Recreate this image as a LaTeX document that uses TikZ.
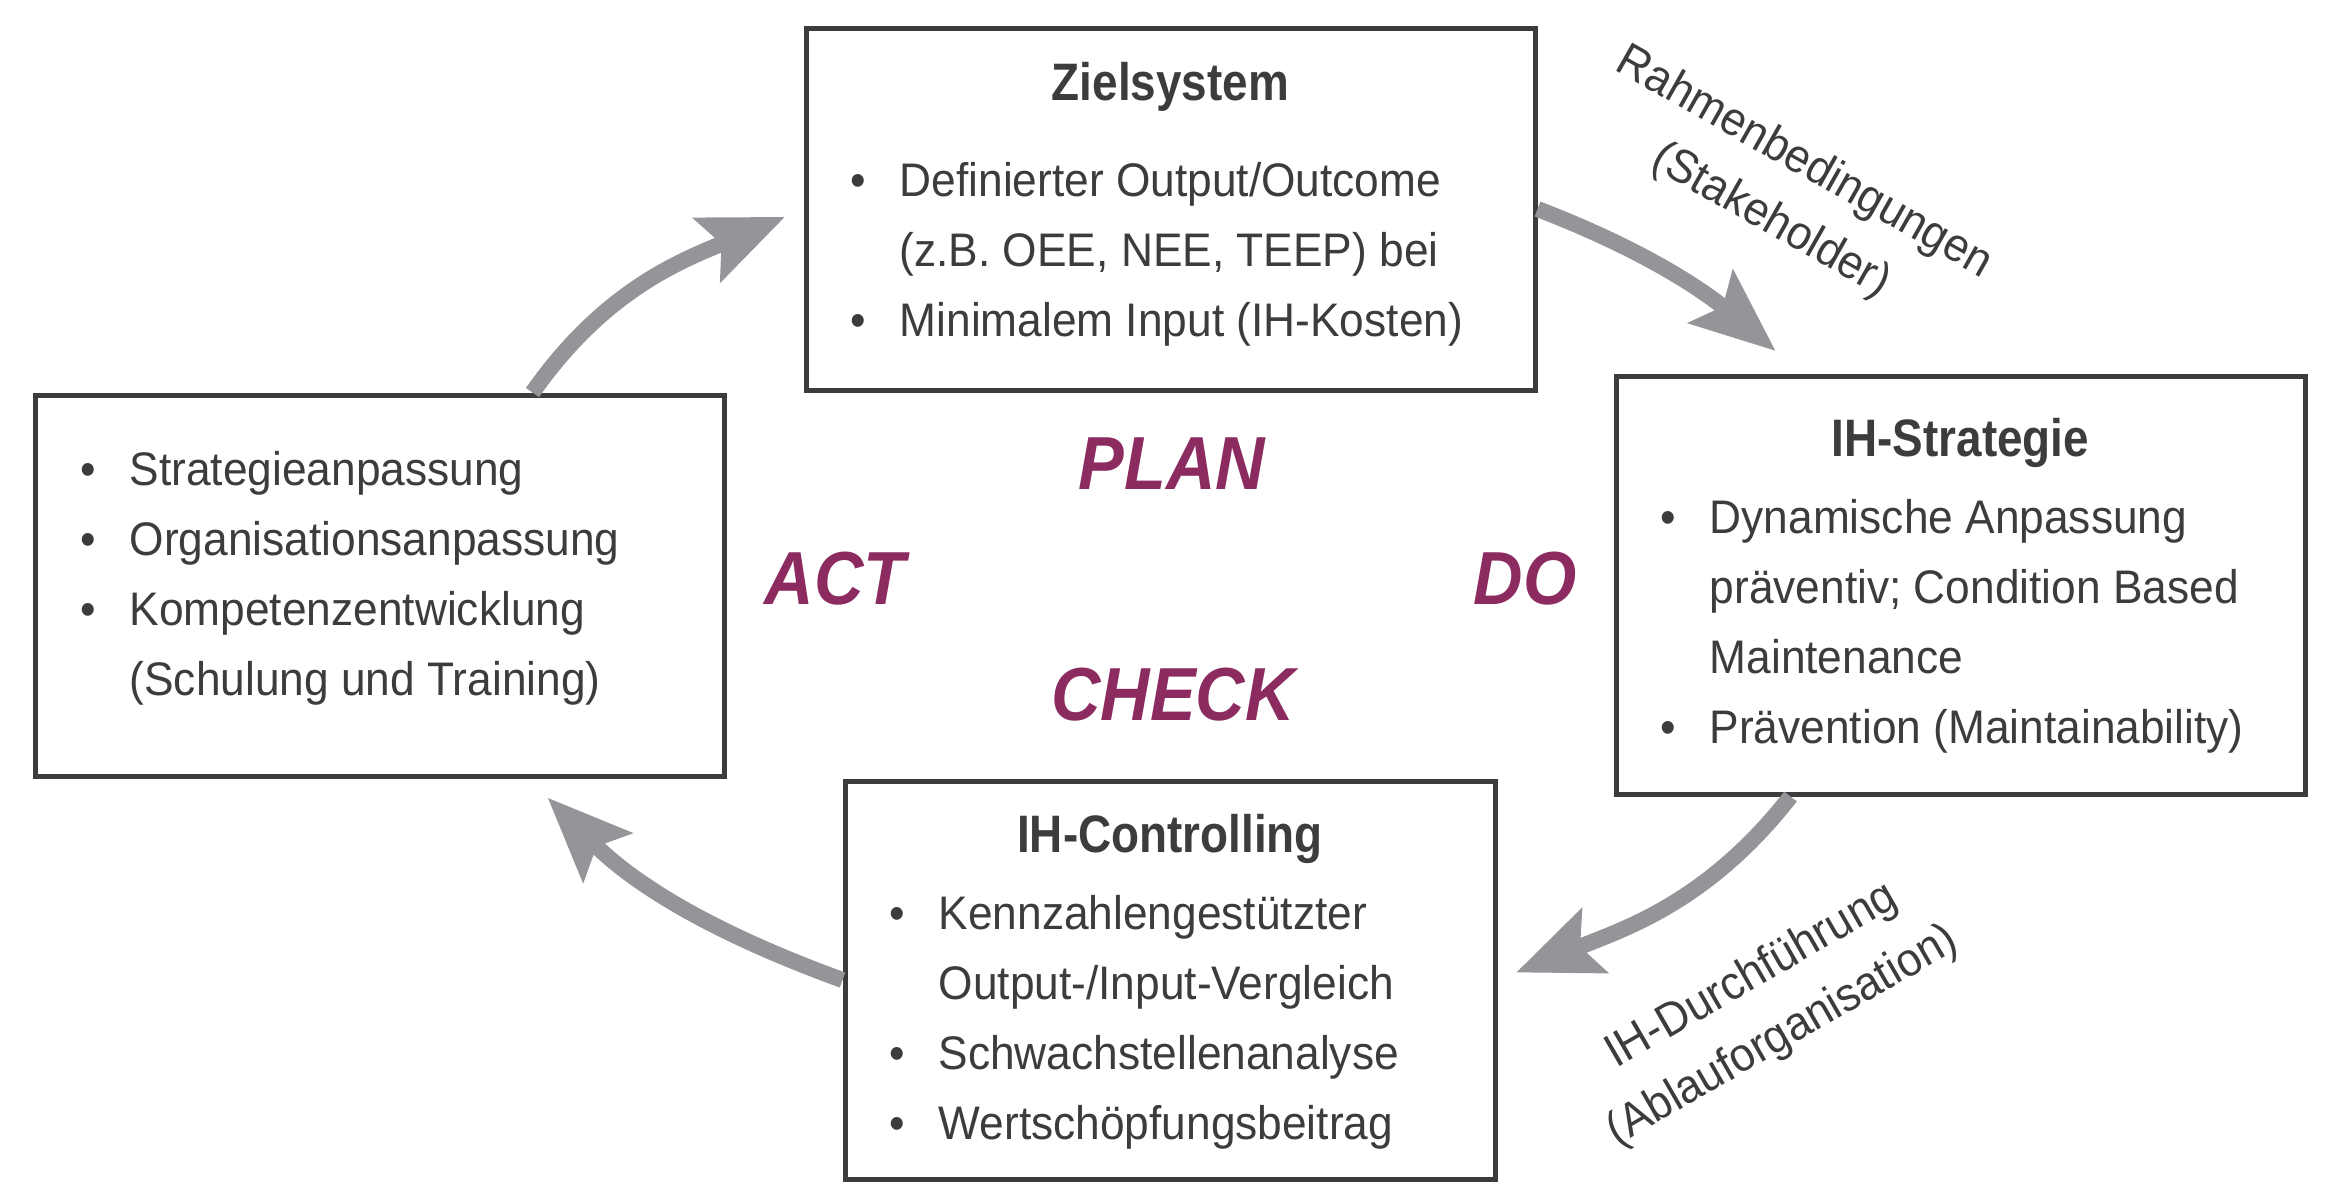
\documentclass[tikz,border=0pt]{standalone}
\usepackage{fontspec}
\setmainfont{Liberation Sans}[FakeStretch=0.94]
\newfontfamily\headfont{Liberation Sans}[FakeStretch=0.87]
\newfontfamily\pdcafont{Liberation Sans}[FakeStretch=0.91]
\usetikzlibrary{arrows.meta, positioning}
\definecolor{textgray}{HTML}{3C3C3C}
\definecolor{framegray}{HTML}{3C3C3C}
\definecolor{arrowgray}{HTML}{939598}
\definecolor{pdcared}{HTML}{8C2B60}
\newcommand{\bul}{\textbullet}
\tikzset{
    box/.style={draw=framegray, line width=0.05cm, fill=white, inner sep=0pt},
    head/.style={font=\headfont\bfseries\fontsize{15}{20}\selectfont, text=textgray, inner sep=0pt, anchor=base},
    items/.style={font=\fontsize{13.4}{19.92}\selectfont, text=textgray, inner sep=0pt, anchor=base west},
    pdca/.style={font=\pdcafont\bfseries\itshape\fontsize{21.4}{24}\selectfont, text=pdcared, inner sep=0pt, anchor=base},
    pdcaarrow/.style={draw=arrowgray, line width=0.16cm, -{Stealth[length=0.84cm, width=0.68cm, inset=0.15cm]}},
    lbl/.style={font=\fontsize{13.4}{19.92}\selectfont, text=textgray, inner sep=0pt, anchor=base},
}

\begin{document}
\begin{tikzpicture}
    \useasboundingbox (0,0) rectangle (23.41,-11.82);

    % boxes
    \node[box, minimum width=7.29cm, minimum height=3.62cm] (ziel) at (11.705,-2.09) {};
    \node[box, minimum width=6.89cm, minimum height=3.81cm] (anpass) at (3.795,-5.855) {};
    \node[box, minimum width=6.89cm, minimum height=4.18cm] (strat) at (19.605,-5.85) {};
    \node[box, minimum width=6.50cm, minimum height=3.98cm] (contr) at (11.70,-9.80) {};

    % titles
    \node[head] (zielhead) at ([yshift=-0.75cm]ziel.north) {Zielsystem};
    \node[head] (strathead) at ([yshift=-0.83cm]strat.north) {IH-Strategie};
    \node[head] (contrhead) at ([yshift=-0.74cm]contr.north) {IH-Controlling};

    % lists
    \node[items] (ziellist) at ([xshift=0.46cm, yshift=-1.71cm]ziel.north west) {%
        \begin{tabular}[t]{@{}c@{\hspace{0.34cm}}l@{}}
            \bul & Definierter Output/Outcome\\
                 & (z.B. OEE, NEE, TEEP) bei\\
            \bul & Minimalem Input (IH-Kosten)
        \end{tabular}};
    \node[items] (anpasslist) at ([xshift=0.47cm, yshift=-0.93cm]anpass.north west) {%
        \begin{tabular}[t]{@{}c@{\hspace{0.34cm}}l@{}}
            \bul & Strategieanpassung\\
            \bul & Organisationsanpassung\\
            \bul & Kompetenzentwicklung\\
                 & (Schulung und Training)
        \end{tabular}};
    \node[items] (stratlist) at ([xshift=0.46cm, yshift=-1.60cm]strat.north west) {%
        \begin{tabular}[t]{@{}c@{\hspace{0.34cm}}l@{}}
            \bul & Dynamische Anpassung\\
                 & präventiv; Condition Based\\
                 & Maintenance\\
            \bul & Prävention (Maintainability)
        \end{tabular}};
    \node[items] (contrlist) at ([xshift=0.46cm, yshift=-1.51cm]contr.north west) {%
        \begin{tabular}[t]{@{}c@{\hspace{0.34cm}}l@{}}
            \bul & Kennzahlengestützter\\
                 & Output-/Input-Vergleich\\
            \bul & Schwachstellenanalyse\\
            \bul & Wertschöpfungsbeitrag
        \end{tabular}};

    % PDCA
    \node[pdca] (plan) at (11.72,-4.89) {PLAN};
    \node[pdca] (act) at (8.35,-6.04) {ACT};
    \node[pdca] (do) at (15.25,-6.04) {DO};
    \node[pdca] (check) at (11.73,-7.20) {CHECK};

    % arrows
    \draw[pdcaarrow, shorten >=0.2cm] ([xshift=-1.94cm]anpass.north east) to[out=55, in=203] (ziel.west);
    \draw[pdcaarrow, shorten >=0.35cm] (ziel.east) to[out=-21, in=140] ([xshift=1.89cm]strat.north west);
    \draw[pdcaarrow, shorten >=0.2cm] ([xshift=1.77cm]strat.south west) to[out=-128, in=22] (contr.east);
    \draw[pdcaarrow, shorten >=0.27cm] (contr.west) to[out=160, in=-45] ([xshift=-1.98cm]anpass.south east);

    % arrow labels
    \node[lbl, rotate=-29.5] (rahmen) at (17.98,-1.74) {Rahmenbedingungen};
    \node[lbl, rotate=-29.5] (stake) at (17.65,-2.32) {(Stakeholder)};
    \node[lbl, rotate=30] (durch) at (17.58,-9.87) {IH-Durchführung};
    \node[lbl, rotate=30] (ablauf) at (17.89,-10.47) {(Ablauforganisation)};
\end{tikzpicture}
\end{document}
